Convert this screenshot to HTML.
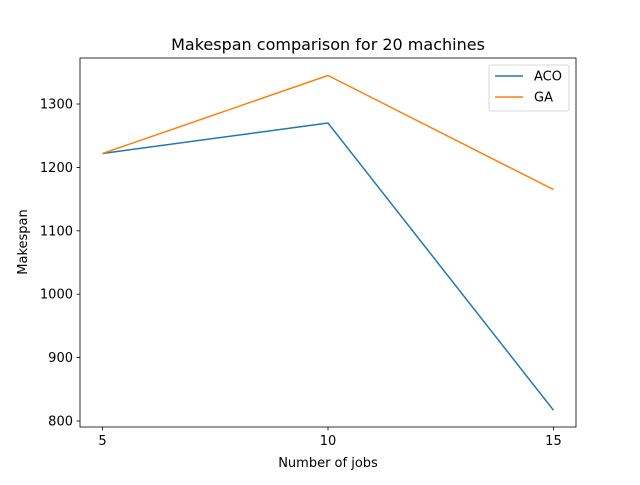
<!DOCTYPE html>
<html><head><meta charset="utf-8"><style>
body{margin:0;background:#fff;}
text{font-family:"DejaVu Sans","Liberation Sans",sans-serif;}
</style></head><body>
<svg id="chart" width="640" height="480" xmlns="http://www.w3.org/2000/svg">
<rect width="640" height="480" fill="#fff"/>
<g id="plot"></g>
</svg>
<script>
const categories=[5,10,15];
const acoValues=[1222,1270,817];
const gaValues=[1222,1345,1165];
const xTicks=[5,10,15];
const yTicks=[800,900,1000,1100,1200,1300];
const L=80,R=576,T=58,B=427;
const xMin=4.5,xMax=15.5,yMin=790.5,yMax=1372.6;
const xs=v=>L+(v-xMin)/(xMax-xMin)*(R-L);
const ys=v=>B-(v-yMin)/(yMax-yMin)*(B-T);
const g=document.getElementById('plot');
const NS='http://www.w3.org/2000/svg';
function mk(t,a,txt){const e=document.createElementNS(NS,t);for(const k in a)e.setAttribute(k,a[k]);if(txt!==undefined)e.textContent=txt;g.appendChild(e);return e;}
function series(vals,color,name){
  const pts=categories.map((c,i)=>xs(c)+','+ys(vals[i])).join(' ');
  const p=mk('polyline',{points:pts,fill:'none',stroke:color,'stroke-width':1.5,'stroke-linejoin':'round'});
  
  
}
series(acoValues,'#1f77b4','aco-line');
series(gaValues,'#ff7f0e','ga-line');
const frame=mk('rect',{x:L,y:T,width:R-L,height:B-T,fill:'none',stroke:'#000','stroke-width':0.8});


xTicks.forEach(t=>{
  mk('line',{x1:xs(t),x2:xs(t),y1:B,y2:B+3.5,stroke:'#000','stroke-width':0.8});
  const tx=mk('text',{x:xs(t),y:B+18,'font-size':13,'text-anchor':'middle'},t);
  
  
});
yTicks.forEach(t=>{
  mk('line',{x1:L-3.5,x2:L,y1:ys(t),y2:ys(t),stroke:'#000','stroke-width':0.8});
  const tx=mk('text',{x:L-7,y:ys(t)+4.5,'font-size':13,'text-anchor':'end'},t);
  
  
});
const title=mk('text',{x:328,y:50,'font-size':16,'text-anchor':'middle'},'Makespan comparison for 20 machines');


const xl=mk('text',{x:328,y:467,'font-size':13,'text-anchor':'middle'},'Number of jobs');


const yl=mk('text',{x:27,y:242,'font-size':13,'text-anchor':'middle',transform:'rotate(-90 27 242)'},'Makespan');


const lg=mk('rect',{x:489,y:65,width:80,height:46,rx:2,fill:'#fff','fill-opacity':0.8,stroke:'#ccc','stroke-width':0.8});


[['ACO','#1f77b4'],['GA','#ff7f0e']].forEach((e,i)=>{
  const y=76+i*21;
  mk('line',{x1:495,x2:523,y1:y,y2:y,stroke:e[1],'stroke-width':1.5});
  const tx=mk('text',{x:534,y:y+4.5,'font-size':13},e[0]);
  
  
});
</script>
</body></html>
